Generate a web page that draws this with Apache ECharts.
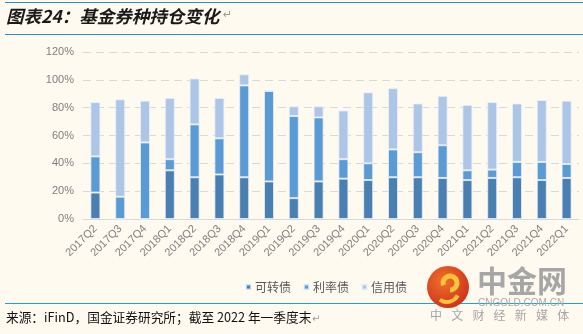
<!DOCTYPE html>
<html>
<head>
<meta charset="utf-8">
<script src="https://cdn.jsdelivr.net/npm/echarts@6/dist/echarts.min.js"></script>
<style>
html,body{margin:0;padding:0;background:#fffaf0;}
#c{width:583px;height:334px;}
</style>
</head>
<body>
<div id="c"></div>
<script>
const categories = ['2017Q2','2017Q3','2017Q4','2018Q1','2018Q2','2018Q3','2018Q4','2019Q1','2019Q2','2019Q3','2019Q4','2020Q1','2020Q2','2020Q3','2020Q4','2021Q1','2021Q2','2021Q3','2021Q4','2022Q1'];
const convertible = [19, 0, 0, 35, 30, 32, 30, 27, 15, 27, 29, 28, 30, 30, 29.5, 28, 29.5, 30, 28, 29.5];
const rateBond = [26, 16, 55, 8, 38, 26, 66, 65, 59, 46, 14, 12, 20, 18, 23.5, 7, 6, 11, 13, 10];
const creditBond = [39, 70, 30, 44, 33, 29, 8, 0.5, 7, 8, 35, 51, 44, 35, 35.5, 47, 48.5, 42, 44.5, 45.5];
const seriesNames = ['可转债', '利率债', '信用债'];
const yTicks = [0, 20, 40, 60, 80, 100, 120];

const chart = echarts.init(document.getElementById('c'), null, {renderer: 'canvas'});
const cjk = '"Noto Sans CJK SC", "Noto Sans", sans-serif';
const colors = ['#4a7fb1', '#5b9bd5', '#adc6e7'];

function mkSeries(name, data, i) {
  return {
    name: name, type: 'bar', stack: 'total', data: data,
    barWidth: 10,
    itemStyle: {color: colors[i], borderColor: 'rgba(235,242,250,0.75)', borderWidth: 1},
    emphasis: {disabled: true}
  };
}

const tagline = '中文财经新媒体'.split('').map((ch, i) => ({
  type: 'text', left: 430 + i * 21.2, top: 309, z: 10,
  style: {text: ch, font: '12px ' + cjk, fill: '#a6a6a6'}
}));

chart.setOption({
  backgroundColor: '#fffaf0',
  animation: false,
  textStyle: {fontFamily: cjk},
  grid: {left: 83, right: 4, top: 52, bottom: 115, containLabel: false},
  legend: {
    data: seriesNames,
    left: 240, top: 276,
    itemWidth: 5, itemHeight: 5, itemGap: 12,
    icon: 'rect',
    textStyle: {color: '#595959', fontSize: 12, fontFamily: cjk, padding: [0, 0, 0, -1]}
  },
  xAxis: {
    type: 'category', data: categories,
    axisLine: {lineStyle: {color: '#d9d9d9'}},
    axisTick: {show: false},
    axisLabel: {rotate: 45, color: '#7f7f7f', fontSize: 11, fontFamily: 'Liberation Sans, Arial, sans-serif', margin: 8, interval: 0}
  },
  yAxis: {
    type: 'value', min: yTicks[0], max: yTicks[yTicks.length - 1], interval: 20,
    axisLine: {show: false}, axisTick: {show: false},
    axisLabel: {formatter: v => v + '%', color: '#7f7f7f', fontSize: 11, fontFamily: 'Liberation Sans, Arial, sans-serif', margin: 9},
    splitLine: {lineStyle: {color: '#d9d9d9', type: [8, 5], width: 1}}
  },
  series: [
    mkSeries(seriesNames[0], convertible, 0),
    mkSeries(seriesNames[1], rateBond, 1),
    mkSeries(seriesNames[2], creditBond, 2)
  ],
  graphic: [
    {type: 'line', shape: {x1: 5, y1: 2.5, x2: 583, y2: 2.5}, style: {stroke: '#2b8dc9', lineWidth: 1}},
    {type: 'line', shape: {x1: 5, y1: 34.5, x2: 583, y2: 34.5}, style: {stroke: '#2b8dc9', lineWidth: 1}},
    {type: 'text', left: 6, top: 8, style: {text: '图表24：基金券种持仓变化', font: 'italic bold 17.5px ' + cjk, fill: '#1a1a1a'}},
    {type: 'text', left: 223, top: 10, style: {text: '↵', font: '11px "DejaVu Sans"', fill: '#999999'}},
    {type: 'line', shape: {x1: 5, y1: 303.5, x2: 583, y2: 303.5}, style: {stroke: '#1aa3e0', lineWidth: 1}},
    {type: 'text', left: 6, top: 311, style: {text: '来源：iFinD，国金证券研究所；截至 2022 年一季度末', font: '12.7px ' + cjk, fill: '#111111'}},
    {type: 'text', left: 312, top: 314, style: {text: '↵', font: '10px "DejaVu Sans"', fill: '#999999'}},
    // watermark logo
    {type: 'circle', shape: {cx: 448, cy: 287, r: 21}, style: {fill: new echarts.graphic.RadialGradient(0.4, 0.35, 0.8, [{offset: 0, color: '#f0702a'}, {offset: 1, color: '#c8281a'}])}, z: 10},
    {type: 'arc', shape: {cx: 450, cy: 283, r: 7, startAngle: Math.PI * 0.9, endAngle: Math.PI * 2.5}, style: {stroke: '#f7c43a', lineWidth: 5, fill: null}, z: 11},
    {type: 'arc', shape: {cx: 447, cy: 290, r: 12, startAngle: Math.PI * 0.15, endAngle: Math.PI * 0.7}, style: {stroke: '#f7c43a', lineWidth: 4, fill: null}, z: 11},
    {type: 'text', left: 477, top: 266, style: {text: '中金网', font: 'bold 30px ' + cjk, fill: '#a6a6a6'}, z: 10},
    {type: 'text', left: 478, top: 298, style: {text: 'CNGOLD.COM.CN', font: '10px "Liberation Sans", sans-serif', fill: '#aaaaaa'}, z: 10}
  ].concat(tagline)
});
</script>
</body>
</html>
